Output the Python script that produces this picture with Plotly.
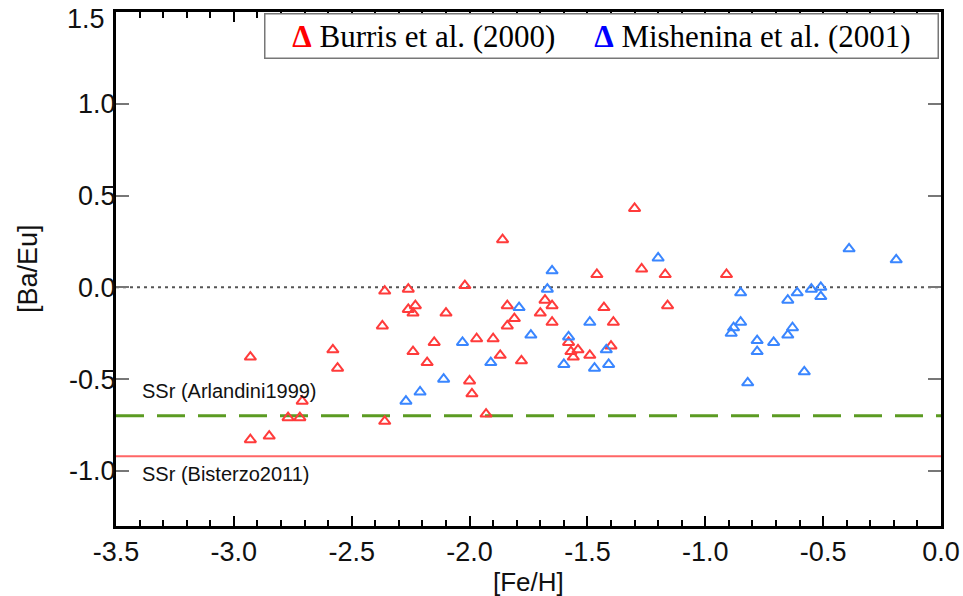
import plotly.graph_objects as go

# [Fe/H] and [Ba/Eu]
burris_feh = [-2.93, -2.93, -2.85, -2.77, -2.72, -2.71, -2.58, -2.56, -2.36, -2.37,
              -2.36, -2.26, -2.26, -2.23, -2.24, -2.24, -2.18, -2.15, -2.10, -2.02,
              -2.00, -1.99, -1.97, -1.93, -1.90, -1.87, -1.86, -1.84, -1.84, -1.81,
              -1.78, -1.70, -1.68, -1.65, -1.65, -1.58, -1.57, -1.56, -1.54, -1.49,
              -1.46, -1.43, -1.39, -1.40, -1.30, -1.27, -1.17, -1.16, -0.91]
burris_baeu = [-0.38, -0.83, -0.81, -0.71, -0.71, -0.62, -0.34, -0.44, -0.02, -0.21,
               -0.73, -0.01, -0.12, -0.10, -0.14, -0.35, -0.41, -0.30, -0.14, 0.01,
               -0.51, -0.58, -0.28, -0.69, -0.28, -0.37, 0.26, -0.10, -0.21, -0.17,
               -0.40, -0.14, -0.07, -0.10, -0.19, -0.30, -0.35, -0.38, -0.34, -0.37,
               0.07, -0.11, -0.19, -0.32, 0.43, 0.10, 0.07, -0.10, 0.07]

mishenina_feh = [-2.27, -2.21, -2.11, -2.03, -1.91, -1.79, -1.74, -1.67, -1.65, -1.60,
                 -1.58, -1.49, -1.47, -1.42, -1.41, -1.20, -0.89, -0.88, -0.85, -0.85,
                 -0.82, -0.78, -0.78, -0.71, -0.65, -0.65, -0.63, -0.61, -0.58, -0.55,
                 -0.51, -0.51, -0.39, -0.19]
mishenina_baeu = [-0.62, -0.57, -0.50, -0.30, -0.41, -0.11, -0.26, -0.01, 0.09, -0.42,
                  -0.27, -0.19, -0.44, -0.34, -0.42, 0.16, -0.25, -0.22, -0.19, -0.03,
                  -0.52, -0.29, -0.35, -0.30, -0.07, -0.26, -0.22, -0.03, -0.46, -0.01,
                  0.00, -0.05, 0.21, 0.15]

# solar system r-process ratios
ssr_arlandini = -0.70
ssr_bisterzo = -0.92
solar = 0.0

x_range = [-3.5, 0.0]
y_range = [-1.3, 1.5]
x_ticks = [-3.5, -3.0, -2.5, -2.0, -1.5, -1.0, -0.5, 0.0]
y_ticks = [-1.0, -0.5, 0.0, 0.5, 1.0, 1.5]
x_ticktext = ["-3.5", "-3.0", "-2.5", "-2.0", "-1.5", "-1.0", "-0.5", "0.0"]
# top label is drawn separately, nudged down like in the original
y_ticktext = ["-1.0", "-0.5", "0.0", "0.5", "1.0", ""]
x_minor = [round(-3.5 + 0.1 * i, 1) for i in range(36)]

RED = "#ff3b3b"
BLUE = "#3a86ff"
SANS = "Liberation Sans, Arial, sans-serif"
SERIF = "Liberation Serif, Times New Roman, serif"

fig = go.Figure()

fig.add_trace(go.Scatter(x=x_range, y=[solar, solar], mode="lines",
                         line=dict(color="#555555", width=2, dash="3px,4px"),
                         hoverinfo="skip"))
fig.add_trace(go.Scatter(x=x_range, y=[ssr_arlandini, ssr_arlandini], mode="lines",
                         line=dict(color="#5b9b22", width=3, dash="28px,13px"),
                         hoverinfo="skip"))
fig.add_trace(go.Scatter(x=x_range, y=[ssr_bisterzo, ssr_bisterzo], mode="lines",
                         line=dict(color="#ff6666", width=2),
                         hoverinfo="skip"))

fig.add_trace(go.Scatter(x=burris_feh, y=burris_baeu, mode="markers",
                         name="Burris et al. (2000)",
                         marker=dict(symbol="triangle-up-open", size=10, color=RED,
                                     line=dict(width=2, color=RED))))
fig.add_trace(go.Scatter(x=mishenina_feh, y=mishenina_baeu, mode="markers",
                         name="Mishenina et al. (2001)",
                         marker=dict(symbol="triangle-up-open", size=10, color=BLUE,
                                     line=dict(width=2, color=BLUE))))

fig.add_annotation(x=-3.4, y=-0.566, xref="x", yref="y", xanchor="left", yanchor="middle",
                   text="SSr (Arlandini1999)", showarrow=False,
                   font=dict(family=SANS, size=20, color="#111"))
fig.add_annotation(x=-3.4, y=-1.014, xref="x", yref="y", xanchor="left", yanchor="middle",
                   text="SSr (Bisterzo2011)", showarrow=False,
                   font=dict(family=SANS, size=20, color="#111"))

# legend drawn as a text box like the original
legend_text = (f"<b><span style='color:red'>\u0394</span></b> Burris et al. (2000)"
               f"\u2003 <b><span style='color:blue'>\u0394</span></b> Mishenina et al. (2001)")
fig.add_annotation(x=0.589, y=0.954, xref="paper", yref="paper",
                   xanchor="center", yanchor="middle", text=legend_text, showarrow=False,
                   width=670, height=41, align="center",
                   bordercolor="#777777", borderwidth=1.5, borderpad=1, bgcolor="white",
                   font=dict(family=SERIF, size=31, color="black"))

fig.add_annotation(x=0, y=y_range[1], xref="paper", yref="y", xanchor="right",
                   yanchor="middle", xshift=-9, yshift=-7, text="1.5", showarrow=False,
                   font=dict(family=SANS, size=27, color="#111"))

# axis titles
fig.add_annotation(x=0.5, y=0, xref="paper", yref="paper", yanchor="bottom",
                   yshift=-73, text="[Fe/H]", showarrow=False,
                   font=dict(family=SANS, size=26, color="#111"))
fig.add_annotation(x=0, y=0.5, xref="paper", yref="paper", xanchor="center",
                   xshift=-88, text="[Ba/Eu]", textangle=-90, showarrow=False,
                   font=dict(family=SANS, size=27, color="#111"))

fig.update_xaxes(range=x_range, tickvals=x_ticks, ticktext=x_ticktext,
                 ticks="inside", ticklen=10, tickwidth=1.5, tickcolor="black",
                 minor=dict(tickmode="array", tickvals=x_minor, ticks="inside",
                            ticklen=6, tickwidth=1.5, tickcolor="black"),
                 showline=True, linewidth=3, linecolor="black", mirror="allticks",
                 showgrid=False, zeroline=False, automargin=False,
                 ticklabeloverflow="allow",
                 tickfont=dict(family=SANS, size=27, color="#111"))
fig.update_yaxes(range=y_range, tickvals=y_ticks, ticktext=y_ticktext,
                 ticks="inside", ticklen=13, tickwidth=2, tickcolor="#777777",
                 showline=True, linewidth=3, linecolor="black", mirror="ticks",
                 showgrid=False, zeroline=False, automargin=False,
                 ticklabelstandoff=-8, ticklabeloverflow="allow",
                 tickfont=dict(family=SANS, size=27, color="#111"))

fig.update_layout(width=963, height=596, showlegend=False,
                  margin=dict(l=116, r=22, t=12, b=70),
                  plot_bgcolor="white", paper_bgcolor="white")

# the page body has a default 8px margin; drop it so the figure fills the window
fig.write_html("out.html", config={"displayModeBar": False},
               post_script="document.body.style.margin = '0';")
